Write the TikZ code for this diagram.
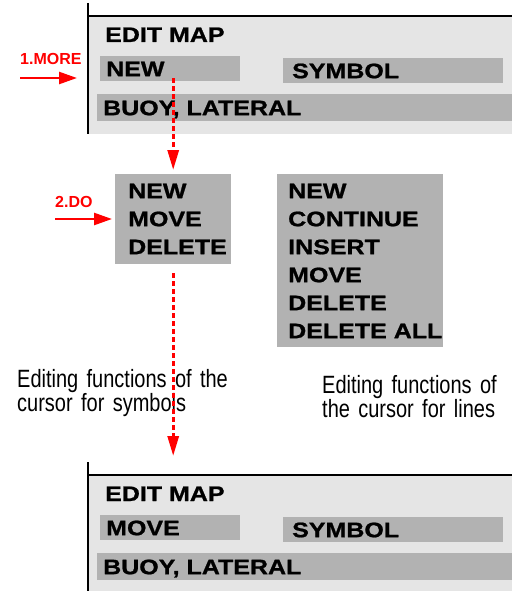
\documentclass[tikz,border=0pt]{standalone}
\usepackage{fontspec}
\setmainfont{Liberation Sans}
\newfontfamily\menufont[FakeStretch=1.19, FakeBold=1]{Liberation Sans}
\newfontfamily\capfont[FakeStretch=0.8]{Liberation Sans}
\usepackage{xcolor}
\usepackage{tikz}
\usetikzlibrary{arrows.meta, positioning}
\definecolor{panelgray}{HTML}{E5E5E5}
\definecolor{boxgray}{HTML}{B2B2B2}

\begin{document}
\begin{tikzpicture}[x=1pt, y=-1pt,
  panel/.style={fill=panelgray, inner sep=0pt, anchor=north west},
  mbox/.style={fill=boxgray, anchor=north west, inner xsep=6pt, inner ysep=5pt, text height=15pt, text depth=0pt, align=left, font=\menufont\bfseries\fontsize{21}{28}\selectfont},
  lbox/.style={fill=boxgray, anchor=north west, inner ysep=9pt, text height=15pt, align=left, font=\menufont\bfseries\fontsize{21}{28}\selectfont},
  maptitle/.style={anchor=base west, inner sep=0pt, font=\menufont\bfseries\fontsize{21}{28}\selectfont},
  redlab/.style={anchor=base west, inner sep=0pt, text=red, font=\bfseries\fontsize{16}{19}\selectfont},
  captext/.style={anchor=base west, inner sep=0pt, text width=240pt, align=left, font=\capfont\fontsize{25}{24.5}\selectfont},
  redarrow/.style={draw=red, line width=2.5pt, -{Triangle[length=18pt, width=12pt]}},
  dasharrow/.style={draw=red, line width=3pt, dash pattern=on 5pt off 3pt, -{Triangle[length=20pt, width=11pt]}},
  maprule/.style={line width=2pt}
]
\useasboundingbox (0,0) rectangle (512,591);

\node[panel, minimum width=424pt, minimum height=118pt] (map1) at (88,16) {};
\draw[maprule] (map1.north west) -- (map1.north east);
\draw[maprule] ([yshift=13pt]map1.north west) -- (map1.south west);
\node[maptitle] (title1) at (105,42) {EDIT MAP};
\node[mbox, text width=128pt] (new1) at (100,56) {NEW};
\node[mbox, text width=202pt, inner xsep=9pt] (sym1) at (283,58) {SYMBOL};
\node[mbox, text width=403pt, inner ysep=6pt] (buoy1) at (97,94) {BUOY, LATERAL};

\node[lbox, inner xsep=13pt, text width=90pt, text depth=57pt] (symmenu) at (115,174) {NEW\\MOVE\\DELETE};
\node[lbox, inner xsep=11pt, text width=144pt, text depth=140pt] (linemenu) at (277,174)
  {NEW\\CONTINUE\\INSERT\\MOVE\\DELETE\\DELETE~ALL};

\node[captext] (capsym) at (17,387) {Editing functions of the\\cursor for symbols};
\node[captext] (capline) at (322,393) {Editing functions of\\the cursor for lines};

\node[panel, minimum width=424pt, minimum height=116pt] (map2) at (88,475) {};
\draw[maprule] (map2.north west) -- (map2.north east);
\draw[maprule] ([yshift=13pt]map2.north west) -- (map2.south west);
\node[maptitle] (title2) at (105,501) {EDIT MAP};
\node[mbox, text width=128pt] (move2) at (100,515) {MOVE};
\node[mbox, text width=202pt, inner xsep=9pt] (sym2) at (283,517) {SYMBOL};
\node[mbox, text width=403pt, inner ysep=6pt] (buoy2) at (97,553) {BUOY, LATERAL};

\node[redlab] (lmore) at (20,65) {1.MORE};
\node[redlab] (ldo) at (55,207) {2.DO};
\coordinate (more) at (20,78);
\coordinate (do) at (55,219);
\draw[redarrow, shorten >=11pt] (more) -- (more -| map1.west);
\draw[redarrow, shorten >=3pt] (do) -- (do -| symmenu.west);

\draw[dasharrow, shorten <=-3pt, shorten >=4pt] (symmenu.north |- new1.south) -- (symmenu.north);
\draw[dasharrow, shorten <=9pt, shorten >=19pt] (symmenu.south) -- (symmenu.south |- map2.north);
\end{tikzpicture}
\end{document}
